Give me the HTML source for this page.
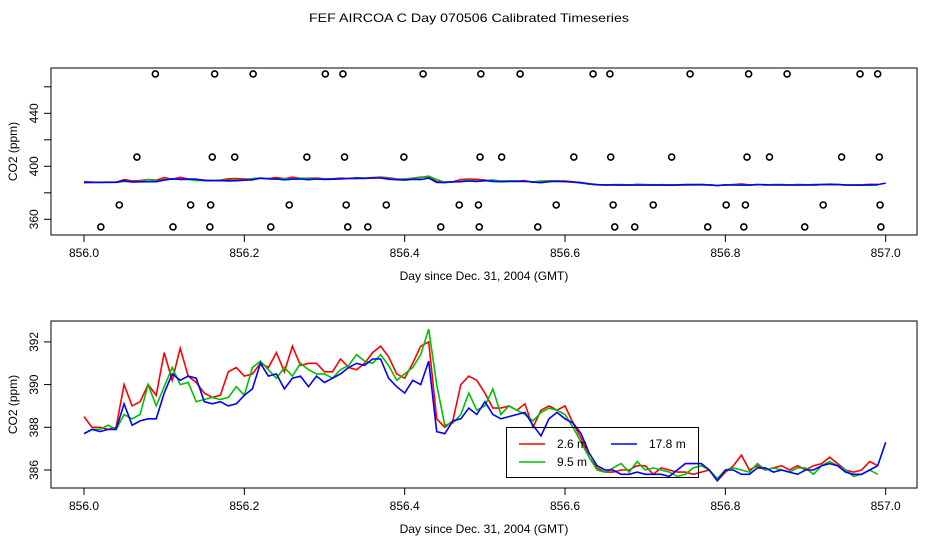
<!DOCTYPE html>
<html><head><meta charset="utf-8"><style>
html,body{margin:0;padding:0;background:#fff;width:936px;height:540px;overflow:hidden}
svg{display:block;font-family:"Liberation Sans",sans-serif}
</style></head><body>
<svg id="chart" width="936" height="540" viewBox="0 0 936 540">
<text x="469" y="22" text-anchor="middle" font-size="12" textLength="320" lengthAdjust="spacingAndGlyphs">FEF AIRCOA C  Day 070506  Calibrated Timeseries</text>
<g id="top"></g>
<g id="bot"></g>
</svg>
<script>
const days = [];
for (let i = 0; i <= 100; i++) days.push(856 + i / 100);
const red = [388.5,388.0,388.0,387.9,388.0,390.0,389.0,389.2,390.0,389.5,391.5,390.2,391.7,390.4,390.1,389.6,389.4,389.5,390.6,390.8,390.4,390.5,391.0,390.8,391.5,390.6,391.8,390.9,391.0,391.0,390.6,390.6,391.2,390.8,390.7,391.0,391.5,391.8,391.3,390.5,390.3,391.0,391.8,392.0,388.4,388.0,388.3,390.0,390.4,390.2,389.6,388.9,388.9,389.0,388.8,389.1,388.0,388.8,389.0,388.8,389.0,388.2,387.5,386.6,386.1,385.9,385.9,386.0,386.0,386.2,386.2,385.8,386.1,386.0,385.9,385.9,385.8,385.9,386.0,385.5,385.9,386.2,386.7,386.0,386.2,386.0,386.1,386.2,386.0,386.2,386.0,386.2,386.3,386.6,386.3,386.0,385.9,386.0,386.4,386.2];
const green = [387.7,387.9,387.9,388.1,387.9,388.6,388.4,388.6,390.0,389.0,389.9,390.8,390.0,390.1,389.2,389.3,389.4,389.3,389.4,389.9,389.5,390.8,391.1,390.7,390.3,390.8,390.4,391.0,390.7,390.5,390.5,390.3,390.7,390.9,391.4,391.1,391.0,391.4,390.9,390.2,390.5,390.8,391.4,392.6,390.0,388.1,388.2,388.6,389.6,388.8,389.0,389.8,388.6,389.0,388.8,388.6,388.3,388.7,388.9,388.8,388.6,388.0,387.3,386.6,386.0,385.9,386.1,386.3,385.9,386.4,386.0,386.1,386.0,385.9,385.7,385.8,386.1,386.2,386.0,385.6,386.0,386.1,386.0,385.9,386.3,386.0,386.1,386.0,385.9,386.1,386.1,385.8,386.2,386.4,386.2,386.0,385.7,385.8,386.0,385.8];
const blue = [387.7,387.9,387.8,387.9,387.9,389.1,388.1,388.3,388.4,388.4,389.6,390.5,390.2,390.4,390.3,389.2,389.1,389.2,389.0,389.1,389.5,389.8,391.0,390.4,390.5,389.8,390.3,390.4,389.9,390.4,390.1,390.3,390.5,390.8,391.0,390.9,391.2,391.2,390.3,389.9,389.6,390.2,390.0,391.1,387.8,387.7,388.3,388.4,388.9,388.6,389.2,388.6,388.4,388.5,388.6,388.7,388.1,387.6,388.4,388.7,388.4,388.2,387.7,386.8,386.2,386.0,386.0,385.8,385.8,385.9,385.8,385.8,385.8,385.7,386.0,386.3,386.3,386.3,386.0,385.5,386.0,386.0,385.8,385.8,386.1,386.1,385.9,386.0,385.9,385.8,386.0,386.0,386.2,386.3,386.2,385.9,385.8,385.8,386.0,386.2,387.3];
const outlierDays = [856.089,856.163,856.211,856.301,856.323,856.423,856.495,856.544,856.635,856.656,856.756,856.829,856.877,856.968,856.990,
 856.066,856.160,856.188,856.278,856.325,856.399,856.494,856.521,856.611,856.657,856.733,856.827,856.855,856.945,856.992,
 856.044,856.133,856.158,856.256,856.327,856.377,856.468,856.492,856.589,856.660,856.710,856.801,856.825,856.922,856.993,
 856.021,856.111,856.157,856.233,856.329,856.354,856.445,856.493,856.566,856.662,856.687,856.778,856.823,856.899,856.994];
const outlierVals = [469.7,469.7,469.7,469.7,469.7,469.7,469.7,469.7,469.7,469.7,469.7,469.7,469.7,469.7,469.7,
 407,407,407,407,407,407,407,407,407,407,407,407,407,407,407,
 370.8,370.8,370.8,370.8,370.8,370.8,370.8,370.8,370.8,370.8,370.8,370.8,370.8,370.8,370.8,
 354.2,354.2,354.2,354.2,354.2,354.2,354.2,354.2,354.2,354.2,354.2,354.2,354.2,354.2,354.2];
const xTicks = [856.0,856.2,856.4,856.6,856.8,857.0];
const topTicks = [360,380,400,420,440,460];
const topLabels = [360,400,440];
const botTicks = [386,388,390,392];

const NS = "http://www.w3.org/2000/svg";
function mk(parent, tag, attrs, text) {
  const e = document.createElementNS(NS, tag);
  for (const k in attrs) e.setAttribute(k, attrs[k]);
  if (text !== undefined) e.textContent = text;
  parent.appendChild(e);
  return e;
}
const xs = d => 84 + (d - 856) * 801.7;

function panel(g, box, ys, yTicks, yLabels, yFmt, name) {
  const r = mk(g, 'rect', {x: box.x0, y: box.y0, width: box.x1 - box.x0, height: box.y1 - box.y0, fill: 'none', stroke: '#000', 'stroke-width': 1});
  
  
  const xa = mk(g, 'g', {});
  
  
  xTicks.forEach(t => {
    mk(xa, 'line', {x1: xs(t), x2: xs(t), y1: box.y1, y2: box.y1 + 7, stroke: '#000'});
    const tl = mk(xa, 'text', {x: xs(t), y: box.y1 + 22, 'text-anchor': 'middle', 'font-size': 12}, t.toFixed(1));
    
    
  });
  const xt = mk(g, 'text', {x: 484, y: box.y1 + 45, 'text-anchor': 'middle', 'font-size': 12}, 'Day since Dec. 31, 2004 (GMT)');
  
  
  const ya = mk(g, 'g', {});
  
  
  yTicks.forEach(t => {
    mk(ya, 'line', {x1: box.x0 - 7, x2: box.x0, y1: ys(t), y2: ys(t), stroke: '#000'});
  });
  yLabels.forEach(t => {
    const y = ys(t);
    const tl = mk(ya, 'text', {x: 0, y: 0, 'text-anchor': 'middle', 'font-size': 12, transform: `translate(${box.x0 - 13},${y}) rotate(-90)`}, yFmt(t));
    
    
  });
  const yt = mk(g, 'text', {x: 0, y: 0, 'text-anchor': 'middle', 'font-size': 12, transform: `translate(17,${(box.y0 + box.y1) / 2}) rotate(-90)`}, 'CO2 (ppm)');
  
  
}
function series(g, vals, ys, color, name) {
  let d = '';
  vals.forEach((v, i) => { d += (i ? 'L' : 'M') + xs(days[i]).toFixed(1) + ',' + ys(v).toFixed(1); });
  const p = mk(g, 'path', {d: d, fill: 'none', stroke: color, 'stroke-width': 1.6});
  
  
}

// top panel
const topG = document.getElementById('top');
const ysT = v => 166.3 - (v - 400) * 1.325;
panel(topG, {x0: 51, x1: 917, y0: 68, y1: 235}, ysT, topTicks, topLabels, v => String(v), 'top');
series(topG, red, ysT, '#ff0000', 'top-series-2-6m');
series(topG, green, ysT, '#00c000', 'top-series-9-5m');
series(topG, blue, ysT, '#0000ff', 'top-series-17-8m');
outlierDays.forEach((d, i) => {
  const c = mk(topG, 'circle', {cx: xs(d), cy: ysT(outlierVals[i]), r: 3, fill: 'none', stroke: '#000', 'stroke-width': 1.6});
  
  
});

// bottom panel
const botG = document.getElementById('bot');
const ysB = v => 470 - (v - 386) * 21.35;
panel(botG, {x0: 51, x1: 917, y0: 321, y1: 488}, ysB, botTicks, botTicks, v => String(v), 'bottom');
series(botG, red, ysB, '#ff0000', 'series-2-6m');
series(botG, green, ysB, '#00c000', 'series-9-5m');
series(botG, blue, ysB, '#0000ff', 'series-17-8m');

// legend (transparent background, lines show through)
const lg = mk(botG, 'g', {});


mk(lg, 'rect', {x: 506.5, y: 427.5, width: 192, height: 50, fill: 'none', stroke: '#000'});
const items = [['#ff0000', '2.6 m', 519, 444], ['#00c000', '9.5 m', 519, 462], ['#0000ff', '17.8 m', 611, 444]];
items.forEach(it => {
  const e = mk(lg, 'g', {});
  
  
  mk(e, 'line', {x1: it[2], x2: it[2] + 26, y1: it[3], y2: it[3], stroke: it[0], 'stroke-width': 1.5});
  mk(e, 'text', {x: it[2] + 38, y: it[3] + 4, 'font-size': 12}, it[1]);
});
</script>
</body></html>
